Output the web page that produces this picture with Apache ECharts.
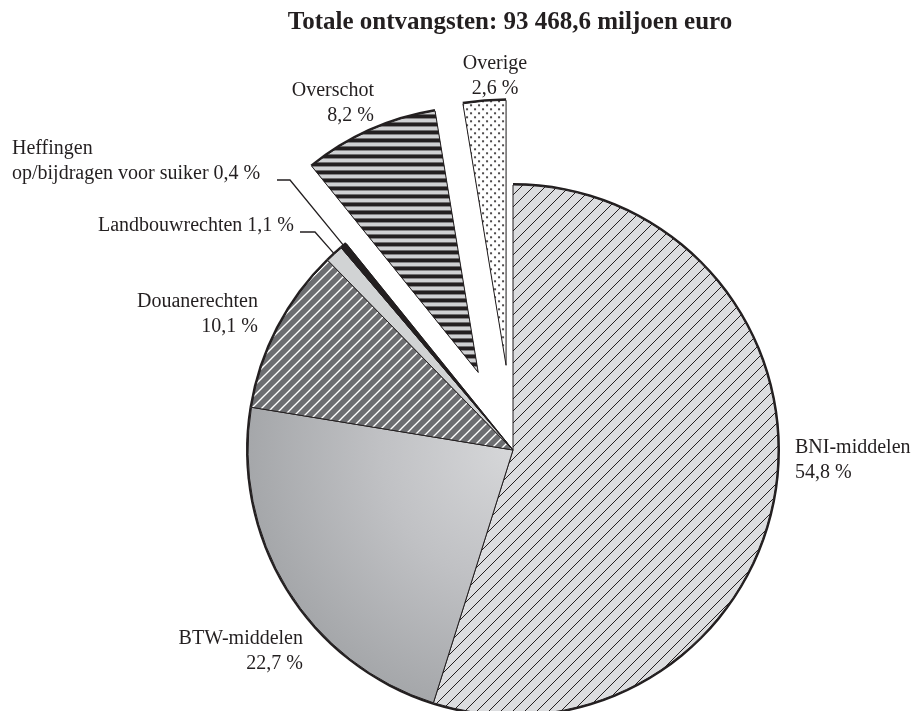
<!DOCTYPE html>
<html>
<head>
<meta charset="utf-8">
<script src="https://cdn.jsdelivr.net/npm/echarts@6/dist/echarts.min.js"></script>
<style>
html,body{margin:0;padding:0;background:#fff;}
#chart{width:920px;height:711px;}
</style>
</head>
<body>
<div id="chart"></div>
<script>
// ---- Data ----
const titleText = 'Totale ontvangsten: 93 468,6 miljoen euro';
const names = ['BNI-middelen', 'BTW-middelen', 'Douanerechten', 'Landbouwrechten', 'Heffingen\nop/bijdragen voor suiker', 'Overschot', 'Overige'];
const values = [54.8, 22.7, 10.1, 1.1, 0.4, 8.2, 2.6];
const exploded = [false, false, false, false, false, true, true];
const valueInline = [false, false, false, true, true, false, false];

// ---- Styles / layout ----
const INK = '#231f20';
const FONT = '"Liberation Serif", "Times New Roman", serif';
const CX = 513, CY = 450, R = 265;

function makePattern(size, draw) {
  const c = document.createElement('canvas');
  c.width = size; c.height = size;
  const ctx = c.getContext('2d');
  draw(ctx, size);
  return { image: c, repeat: 'repeat' };
}
function hatch(bg, fg, size, lw) {
  return makePattern(size, (ctx, s) => {
    ctx.fillStyle = bg; ctx.fillRect(0, 0, s, s);
    ctx.strokeStyle = fg; ctx.lineWidth = lw;
    ctx.beginPath();
    ctx.moveTo(0, s); ctx.lineTo(s, 0);
    ctx.moveTo(-s / 2, s / 2); ctx.lineTo(s / 2, -s / 2);
    ctx.moveTo(s / 2, s * 1.5); ctx.lineTo(s * 1.5, s / 2);
    ctx.stroke();
  });
}
const stripes = makePattern(8, (ctx, s) => {
  ctx.fillStyle = '#cfd0d2'; ctx.fillRect(0, 0, s, s);
  ctx.fillStyle = INK; ctx.fillRect(0, 0, s, 4);
});
const dots = makePattern(8, (ctx, s) => {
  ctx.fillStyle = '#ffffff'; ctx.fillRect(0, 0, s, s);
  ctx.fillStyle = INK;
  ctx.beginPath(); ctx.arc(2, 2, 1.1, 0, Math.PI * 2); ctx.fill();
  ctx.beginPath(); ctx.arc(6, 6, 1.1, 0, Math.PI * 2); ctx.fill();
});
const btwGrad = {
  type: 'radial', x: CX, y: CY, r: R, global: true,
  colorStops: [{ offset: 0, color: '#d6d7d9' }, { offset: 0.5, color: '#c0c1c4' }, { offset: 1, color: '#a5a7aa' }]
};
const fills = [
  hatch('#dcdddf', INK, 12, 1),
  btwGrad,
  hatch('#6d6e71', '#ffffff', 10, 1.4),
  '#d1d3d4',
  INK,
  stripes,
  dots
];
const labelPos = [
  { x: 795, y: 460, align: 'left' },
  { x: 303, y: 651, align: 'right' },
  { x: 258, y: 314, align: 'right' },
  { x: 294, y: 226, align: 'right', bend: [315, 232], end: [300, 232] },
  { x: 12, y: 161, align: 'left', bend: [290, 180], end: [277, 180] },
  { x: 374, y: 103, align: 'right' },
  { x: 495, y: 76, align: 'center' }
];

function fmt(v) { return v.toFixed(1).replace('.', ',') + ' %'; }

const mainData = names.map((n, i) => ({
  name: n, value: values[i], selected: exploded[i],
  itemStyle: { color: fills[i] }
}));
const underData = names.map((n, i) => ({
  name: n, value: values[i], selected: exploded[i]
}));
const labelData = names.map((n, i) => ({
  name: n, value: values[i],
  labelLine: { show: !!labelPos[i].bend }
}));

const pieBase = {
  type: 'pie', silent: true,
  center: [CX, CY], startAngle: 90, clockwise: true,
  avoidLabelOverlap: false,
  emphasis: { disabled: true }
};

const chart = echarts.init(document.getElementById('chart'), null, { renderer: 'canvas' });
chart.setOption({
  animation: false,
  backgroundColor: '#ffffff',
  title: {
    text: titleText,
    left: 505, top: 5, textAlign: 'center',
    textStyle: { fontFamily: FONT, fontWeight: 'bold', fontSize: 25, color: INK }
  },
  series: [
    Object.assign({}, pieBase, {
      radius: R + 2,
      selectedMode: 'multiple', selectedOffset: 85,
      label: { show: false }, labelLine: { show: false },
      itemStyle: { color: INK, borderWidth: 0 },
      data: underData
    }),
    Object.assign({}, pieBase, {
      radius: R,
      selectedMode: 'multiple', selectedOffset: 85,
      label: { show: false }, labelLine: { show: false },
      itemStyle: { borderColor: INK, borderWidth: 1 },
      select: { itemStyle: { borderColor: INK, borderWidth: 1 } },
      data: mainData
    }),
    Object.assign({}, pieBase, {
      radius: R,
      selectedMode: false,
      itemStyle: { color: 'rgba(0,0,0,0)', borderWidth: 0 },
      label: {
        show: true, position: 'outside',
        fontFamily: FONT, fontSize: 20, lineHeight: 25, color: INK,
        formatter: p => p.name + (valueInline[p.dataIndex] ? ' ' : '\n') + fmt(p.value)
      },
      labelLine: { show: false, lineStyle: { color: INK, width: 1.3 } },
      labelLayout: function (params) {
        const p = labelPos[params.dataIndex];
        const out = { x: p.x, y: p.y, align: p.align, verticalAlign: 'middle' };
        if (p.bend && params.labelLinePoints) {
          out.labelLinePoints = [params.labelLinePoints[0], p.bend, p.end];
        }
        return out;
      },
      data: labelData
    })
  ]
});
</script>
</body>
</html>
